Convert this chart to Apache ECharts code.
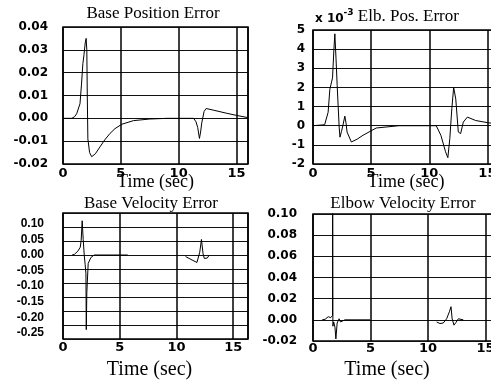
<!DOCTYPE html>
<html>
<head>
<meta charset="utf-8">
<script src="https://cdn.jsdelivr.net/npm/echarts@6/dist/echarts.min.js"></script>
<style>
  html, body { margin: 0; padding: 0; background: #fff; }
  #chart { width: 491px; height: 381px; }
</style>
</head>
<body>
<div id="chart"></div>
<script>
// Base position error
const basePosT = [0, 0.75, 1.0, 1.18, 1.47, 1.6, 1.72, 1.82, 1.92, 2.0, 2.06, 2.1, 2.15, 2.3, 2.48, 2.8, 3.2, 3.6, 4.07, 4.5, 5.08, 6.1, 7.5, 9, 11.3, 11.5, 11.65, 11.8, 11.9, 12.0, 12.2, 12.38, 13.0, 14.17, 15, 16]
const basePosV = [0, 0, 0.0007, 0.002, 0.0064, 0.015, 0.024, 0.028, 0.033, 0.035, 0.03, 0.01, -0.009, -0.015, -0.0168, -0.0155, -0.0125, -0.0095, -0.0066, -0.0045, -0.0026, -0.001, -0.0003, 0, 0, -0.0015, -0.004, -0.0088, -0.006, -0.002, 0.003, 0.0043, 0.0036, 0.0022, 0.0013, 0.0003]

// Elbow position error (x 10^-3)
const elbPosT = [0, 1.0, 1.3, 1.45, 1.68, 1.8, 1.88, 1.98, 2.08, 2.25, 2.32, 2.45, 2.54, 2.74, 2.85, 2.93, 3.3, 3.8, 4.3, 5.44, 7.4, 10.6, 11.0, 11.4, 11.6, 11.77, 11.94, 12.1, 12.28, 12.5, 12.7, 12.93, 13.28, 14.0, 15.1, 16]
const elbPosV = [0, 0.05, 0.7, 1.9, 2.5, 4.0, 4.8, 3.5, 2.1, -0.07, -0.6, -0.3, -0.07, 0.5, 0.1, -0.33, -0.85, -0.7, -0.5, -0.12, 0, 0, -0.5, -1.36, -1.67, -0.67, 0.88, 2.0, 1.4, -0.33, -0.41, 0.19, 0.45, 0.27, 0.15, 0.1]

// Base velocity error (null = gap in trace)
const baseVelT = [0.8, 1.0, 1.3, 1.52, 1.6, 1.69, 1.78, 1.87, 1.95, 2.02, 2.05, 2.1, 2.22, 2.46, 2.75, 5.7, 8, 10.8, 11.37, 11.8, 12.05, 12.2, 12.34, 12.45, 12.7, 12.9]
const baseVelV = [0, 0.002, 0.012, 0.025, 0.047, 0.11, 0.05, 0, -0.03, -0.06, -0.24, -0.12, -0.027, -0.008, 0, 0, null, -0.005, -0.016, -0.024, 0.009, 0.05, 0.004, -0.011, -0.01, 0]
const baseVelTicks = [0.10, 0.05, 0.00, -0.05, -0.10, -0.15, -0.20, -0.25]

// Elbow velocity error
const elbVelT = [0.8, 1.05, 1.19, 1.33, 1.45, 1.53, 1.62, 1.70, 1.71, 1.73, 1.8, 1.91, 1.99, 2.1, 2.27, 2.39, 2.56, 2.77, 4.96, 8, 10.75, 11.04, 11.33, 11.62, 11.86, 12.0, 12.1, 12.26, 12.43, 12.64, 13.07]
const elbVelV = [0, 0.0005, 0.0015, 0.003, 0.0025, 0.002, 0.003, 0.004, 0.13, -0.006, -0.002, -0.007, -0.018, -0.003, 0.001, -0.002, -0.003, 0, 0, null, -0.002, -0.0035, -0.003, 0.001, 0.0076, 0.0124, 0.001, -0.005, -0.0025, 0.001, 0]

const pairs = (t, v) => t.map((x, i) => [x, v[i]])

const serif = '"Liberation Serif", "Times New Roman", serif'
const sansBold = { fontFamily: '"DejaVu Sans", sans-serif', fontWeight: 'bold', color: '#000' }

const gridLine = { show: true, lineStyle: { color: '#111', width: 1.2 } }

const makeX = (gridIndex, opts) => ({
  type: 'value',
  gridIndex,
  min: 0,
  max: opts.max || 16,
  interval: 5,
  axisLine: { show: false },
  axisTick: { show: false },
  splitLine: { show: true, lineStyle: { color: '#000', width: 1.5 } },
  axisLabel: Object.assign({}, sansBold, { fontSize: 13, margin: opts.labelMargin, showMaxLabel: false }),
  name: 'Time (sec)',
  nameLocation: 'middle',
  nameGap: opts.nameGap,
  nameMoveOverlap: false,
  nameTextStyle: { fontFamily: serif, fontSize: opts.nameSize, color: '#000', padding: opts.namePad || 0 }
})

const makeY = (gridIndex, min, max, interval, digits, margin) => ({
  type: 'value',
  gridIndex,
  min, max, interval,
  axisLine: { show: false },
  axisTick: { show: false },
  splitLine: gridLine,
  axisLabel: Object.assign({}, sansBold, {
    fontSize: 12,
    margin,
    formatter: v => v.toFixed(digits)
  })
})

const chart = echarts.init(document.getElementById('chart'))

const option = {
  animation: false,
  backgroundColor: '#fff',
  grid: [
    { left: 63, top: 27, width: 185, height: 137 },
    { left: 313, top: 30, width: 186, height: 134 },
    { left: 63, top: 213, width: 185, height: 126 },
    { left: 313, top: 214, width: 184, height: 127 }
  ].map(g => Object.assign(g, {
    show: true,
    borderColor: '#000',
    borderWidth: 1.5,
    backgroundColor: 'transparent',
    outerBoundsMode: 'none'
  })),
  xAxis: [
    makeX(0, { labelMargin: 3, nameGap: 9, nameSize: 18 }),
    makeX(1, { labelMargin: 3, nameGap: 9, nameSize: 18 }),
    makeX(2, { max: 16.3, labelMargin: 2, nameGap: 21, nameSize: 20, namePad: [0, 12, 0, 0] }),
    makeX(3, { labelMargin: 1, nameGap: 19, nameSize: 20, namePad: [0, 36, 0, 0] })
  ],
  yAxis: [
    makeY(0, -0.02, 0.04, 0.01, 2, 15),
    makeY(1, -2, 5, 1, 0, 8),
    {
      type: 'value',
      gridIndex: 2,
      min: -0.27,
      max: 0.135,
      axisLine: { show: false },
      axisTick: { show: false },
      splitLine: { show: false },
      axisLabel: {
        fontFamily: '"Liberation Sans", Arial, sans-serif',
        fontWeight: 'bold',
        fontSize: 12,
        color: '#000',
        margin: 19,
        customValues: baseVelTicks,
        formatter: v => v.toFixed(2)
      }
    },
    {
      type: 'value',
      gridIndex: 2,
      min: 0,
      max: 9,
      interval: 1,
      axisLine: { show: false },
      axisTick: { show: false },
      axisLabel: { show: false },
      splitLine: gridLine
    },
    makeY(3, -0.02, 0.10, 0.02, 2, 16)
  ],
  graphic: [
    { type: 'text', x: 153, y: 14, style: { text: 'Base Position Error', font: '17px ' + serif, fill: '#000', align: 'center', verticalAlign: 'middle' } },
    {
      type: 'text', x: 315, y: 17,
      style: {
        text: '{a|x 10}{s|-3}{b| Elb. Pos. Error}',
        fill: '#000',
        verticalAlign: 'middle',
        rich: {
          a: { fontFamily: '"DejaVu Sans", sans-serif', fontWeight: 'bold', fontSize: 12, lineHeight: 18, verticalAlign: 'bottom', padding: [0, 0, 1, 0] },
          s: { fontFamily: '"DejaVu Sans", sans-serif', fontWeight: 'bold', fontSize: 9, lineHeight: 18, verticalAlign: 'top' },
          b: { fontFamily: serif, fontSize: 17, lineHeight: 18 }
        }
      }
    },
    { type: 'text', x: 151, y: 204, style: { text: 'Base Velocity Error', font: '17px ' + serif, fill: '#000', align: 'center', verticalAlign: 'middle' } },
    { type: 'text', x: 403, y: 204, style: { text: 'Elbow Velocity Error', font: '17px ' + serif, fill: '#000', align: 'center', verticalAlign: 'middle' } }
  ],
  series: [
    { data: pairs(basePosT, basePosV), xAxisIndex: 0, yAxisIndex: 0 },
    { data: pairs(elbPosT, elbPosV), xAxisIndex: 1, yAxisIndex: 1 },
    { data: pairs(baseVelT, baseVelV), xAxisIndex: 2, yAxisIndex: 2 },
    { data: pairs(elbVelT, elbVelV), xAxisIndex: 3, yAxisIndex: 4 }
  ].map(s => Object.assign(s, {
    type: 'line',
    showSymbol: false,
    clip: true,
    lineStyle: { color: '#000', width: 1 }
  }))
}

chart.setOption(option)
</script>
</body>
</html>
